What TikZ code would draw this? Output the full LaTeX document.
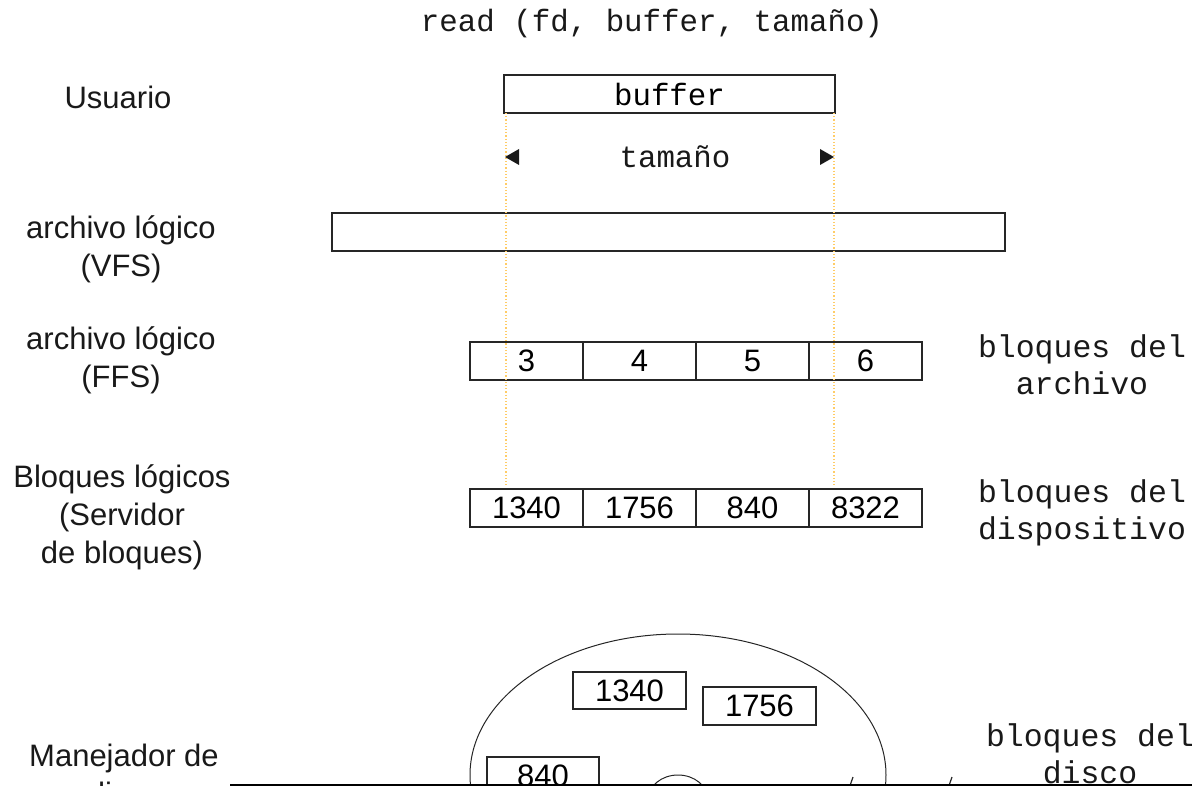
\documentclass[tikz,border=0pt]{standalone}
\usepackage{fontspec}
\setmainfont{Liberation Sans}
\setmonofont{Liberation Mono}
\usetikzlibrary{positioning}
\definecolor{guideorange}{RGB}{255,204,102}

\begin{document}
\begin{tikzpicture}[x=1pt,y=-1pt]
	\tikzstyle{layer}=[font=\fontsize{31}{38}\selectfont,align=center,text=black!90,inner sep=0pt]
	\tikzstyle{mono}=[font=\ttfamily\fontsize{31.5}{37}\selectfont,align=center,text=black!90,inner sep=0pt]
	\tikzstyle{box}=[rectangle,draw=black!85,line width=1.2pt,inner sep=0pt,outer sep=0pt,minimum height=38pt]
	\tikzstyle{cell}=[box,minimum width=113pt,font=\fontsize{31}{38}\selectfont]
	\tikzstyle{guide}=[dotted,line width=1.2pt,guideorange]
	\clip (0,0) rectangle (1192,786);
	% levels on the left
	\node (usuario) at (118,97)  [layer] {Usuario};
	\node (vfs)     at (121,249) [layer] {archivo lógico\\(VFS)};
	\node (ffs)     at (121,360) [layer] {archivo lógico\\(FFS)};
	\node (servidor) at (122,517) [layer] {Bloques lógicos\\(Servidor\\de bloques)};
	\node (manejador) at (124,774) [layer] {Manejador de\\disco};
	% call and user buffer
	\node (call)   at (652,24)  [mono,font=\ttfamily\fontsize{30.8}{37}\selectfont] {read (fd, buffer, tamaño)};
	\node (buffer) at (669.5,94) [box,minimum width=331pt,font=\ttfamily\fontsize{30.8}{37}\selectfont] {buffer};
	\node (tamano) at (675,157) [mono,font=\ttfamily\fontsize{30.8}{37}\selectfont] {tamaño};
	\node (vfsbox) at (668.5,232) [box,minimum width=673pt] {};
	% file blocks
	\node (f3) at (526.5,361) [cell] {3};
	\node (f4) [cell,right=0pt of f3] {4};
	\node (f5) [cell,right=0pt of f4] {5};
	\node (f6) [cell,right=0pt of f5] {6};
	% device blocks
	\node (d1) at (526.5,508) [cell] {1340};
	\node (d2) [cell,right=0pt of d1] {1756};
	\node (d3) [cell,right=0pt of d2] {840};
	\node (d4) [cell,right=0pt of d3] {8322};
	% labels on the right
	\node (archivo)     at (1082,365) [mono] {bloques del\\archivo};
	\node (dispositivo) at (1082,513) [mono] {bloques del\\dispositivo};
	\node (disco)       at (1090,754) [mono] {bloques del\\disco};
	% size guides
	\coordinate (gl top) at (506,113);
	\coordinate (gl bot) at (506,486);
	\coordinate (gr top) at (834,113);
	\coordinate (gr bot) at (834,486);
	\draw [guide] (gl top) -- (gl bot);
	\draw [guide] (gr top) -- (gr bot);
	\fill [black!90] (505,157) -- ++(14,-8) -- ++(0,16) -- cycle;
	\fill [black!90] (834,157) -- ++(-14,-8) -- ++(0,16) -- cycle;
	% disk
	\draw [black!85,line width=1pt] (678,775) ellipse [x radius=208,y radius=141];
	\draw [black!85,line width=1pt] (678,800) ellipse [x radius=30,y radius=25];
	\node (b1340) at (629.5,690.5) [cell,minimum height=37pt] {1340};
	\node (b1756) at (759.5,706)   [cell,minimum height=38pt] {1756};
	\node (b840)  at (543,776)     [cell,minimum width=112pt] {840};
	\draw [black!85,line width=1.2pt] (845,800) -- (853,777);
	\draw [black!85,line width=1.2pt] (944,800) -- (952,777);
	\draw [line width=1.6pt] (230,785) -- (1192,785);
\end{tikzpicture}
\end{document}
